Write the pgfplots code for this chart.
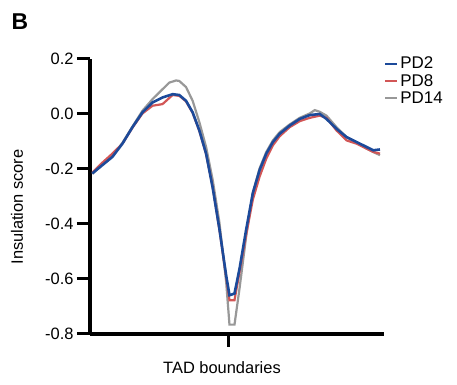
\documentclass[border=0pt]{standalone}
\usepackage{pgfplots}
\pgfplotsset{compat=1.18}
\usepackage{fontspec}
\setmainfont{Liberation Sans}
\definecolor{pdblue}{RGB}{28,74,154}
\definecolor{pdred}{RGB}{210,86,86}
\definecolor{pdgray}{RGB}{152,152,152}
\begin{document}
\begin{tikzpicture}
\path[use as bounding box] (0,0) rectangle (457bp,385bp);
\begin{axis}[
  at={(90bp,51bp)}, anchor=south west,
  scale only axis, width=294bp, height=275bp,
  xmin=91, xmax=384, ymin=-0.8, ymax=0.2,
  axis x line*=bottom, axis y line*=left,
  axis line style={line width=4bp, black},
  xtick={229}, xticklabels={},
  ytick={-0.8,-0.6,-0.4,-0.2,0,0.2},
  /pgf/number format/assume math mode=true,
  yticklabel style={/pgf/number format/fixed, /pgf/number format/fixed zerofill, /pgf/number format/precision=1},
  tick align=outside, major tick length=13bp,
  tick style={line width=3bp, black},
  ticklabel style={font=\fontsize{16.5}{19}\selectfont},
  legend style={at={(axis description cs:1.0,1.015)}, anchor=north west, xshift=0bp,
    draw=none, fill=none, font=\fontsize{17}{19.5}\selectfont, row sep=0bp, inner sep=0pt},
  legend cell align=left,
  legend image code/.code={\draw[#1, line width=2.2bp] (0bp,0bp) -- (12bp,0bp);},
  reverse legend,
  clip=false,
]
\addplot[pdgray, line width=2.2bp] coordinates {
(93.3,-0.218) (103.3,-0.183) (113.3,-0.153) (123.3,-0.105) (133.3,-0.046) (143.3,0.012)
(153.3,0.054) (163.3,0.090) (170,0.114) (176.7,0.122) (180,0.120) (186.7,0.098)
(193.3,0.048) (200,-0.030) (206.7,-0.120) (213.3,-0.240) (220,-0.395) (226.7,-0.611)
(230,-0.766) (235,-0.766) (240,-0.635) (246.7,-0.443) (253.3,-0.287) (260,-0.198)
(266.7,-0.138) (273.3,-0.096) (280,-0.066) (290,-0.038) (300,-0.014) (310,0.002)
(315,0.014) (320,0.008) (326.7,-0.006) (336.7,-0.048) (346.7,-0.084) (356.7,-0.105)
(366.7,-0.126) (373.3,-0.138) (380,-0.150)
};
\addlegendentry{PD14}
\addplot[pdred, line width=2.2bp] coordinates {
(93.3,-0.213) (103.3,-0.177) (113.3,-0.144) (123.3,-0.108) (133.3,-0.050) (143.3,0.002)
(153.3,0.030) (163.3,0.036) (173.3,0.069) (180,0.066) (186.7,0.046) (193.3,0.004)
(200,-0.062) (206.7,-0.146) (213.3,-0.266) (220,-0.422) (226.7,-0.593) (230,-0.677)
(235,-0.677) (240,-0.575) (246.7,-0.437) (253.3,-0.311) (260,-0.228) (266.7,-0.162)
(273.3,-0.114) (280,-0.081) (290,-0.048) (300,-0.026) (310,-0.014) (320,-0.006)
(326.7,-0.014) (336.7,-0.060) (346.7,-0.096) (356.7,-0.108) (366.7,-0.126)
(373.3,-0.138) (380,-0.144)
};
\addlegendentry{PD8}
\addplot[pdblue, line width=2.6bp] coordinates {
(93.3,-0.216) (103.3,-0.186) (113.3,-0.156) (123.3,-0.108) (133.3,-0.048) (143.3,0.006)
(153.3,0.042) (163.3,0.060) (173.3,0.072) (180,0.069) (186.7,0.048) (193.3,0.006)
(200,-0.060) (206.7,-0.144) (213.3,-0.269) (220,-0.419) (226.7,-0.587) (230,-0.659)
(235,-0.653) (240,-0.563) (246.7,-0.419) (253.3,-0.287) (260,-0.204) (266.7,-0.144)
(273.3,-0.102) (280,-0.072) (290,-0.042) (300,-0.018) (310,-0.004) (320,0.000)
(326.7,-0.018) (336.7,-0.054) (346.7,-0.084) (356.7,-0.102) (366.7,-0.120)
(373.3,-0.132) (380,-0.129)
};
\addlegendentry{PD2}
\end{axis}
\node[font=\fontsize{16.5}{19}\selectfont] at (222bp,17bp) {TAD boundaries};
\node[rotate=90, font=\fontsize{16.5}{19}\selectfont] at (17bp,178bp) {Insulation score};
\node[font=\bfseries\fontsize{23}{26}\selectfont] at (20bp,363bp) {B};
\end{tikzpicture}
\end{document}
